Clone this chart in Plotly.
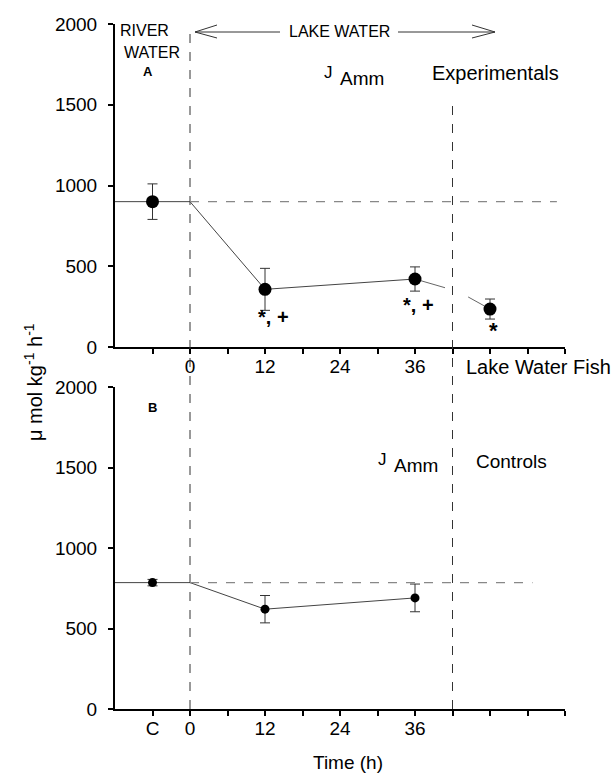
import plotly.graph_objects as go

# ---------------- data ----------------
hours = [12, 36]
# Panel A (experimentals)
exp_river_x = -6
exp_river = 900
exp_river_err = 110
exp_vals = [357, 421]
exp_errs = [130, 75]
lake_fish_x = 48
lake_fish = 235
lake_fish_err = 62
# broken connector between 36 h and lake water fish
conn_x = [36, 40.8, None, 44.5, 48]
conn_y = [421, 367, None, 310, 235]

# Panel B (controls)
ctrl_x = -6
ctrl_val = 785
ctrl_err = 20
ctrl_vals = [620, 690]
ctrl_errs = [85, 86]

tick_vals = [-6, 0, 6, 12, 18, 24, 30, 36, 42, 48, 54, 60]
top_tick_text = ["", "0", "", "12", "", "24", "", "36", "", "", "", ""]
bot_tick_text = ["C", "0", "", "12", "", "24", "", "36", "", "", "", ""]
y_ticks = [0, 500, 1000, 1500, 2000]

# ---------------- layout helpers ----------------
W, H = 615, 777
def px(x):
    return x / W
def py(y):
    return 1 - y / H

FONT = "Liberation Sans, Arial, sans-serif"
LINE_C = "#444444"
ERR_C = "#333333"

fig = go.Figure()

# Panel A traces
fig.add_trace(go.Scatter(
    x=[-12, 0] + hours, y=[exp_river, exp_river] + exp_vals,
    mode="lines", line=dict(color=LINE_C, width=1), xaxis="x", yaxis="y",
    showlegend=False, hoverinfo="skip"))
fig.add_trace(go.Scatter(
    x=conn_x, y=conn_y, mode="lines", line=dict(color="#666666", width=1),
    xaxis="x", yaxis="y", showlegend=False, hoverinfo="skip", connectgaps=False))
fig.add_trace(go.Scatter(
    x=[exp_river_x] + hours + [lake_fish_x],
    y=[exp_river] + exp_vals + [lake_fish],
    error_y=dict(type="data", array=[exp_river_err] + exp_errs + [lake_fish_err],
                 color=ERR_C, thickness=1, width=5),
    mode="markers", marker=dict(color="black", size=13),
    xaxis="x", yaxis="y", showlegend=False))

# Panel B traces
fig.add_trace(go.Scatter(
    x=[-12, 0] + hours, y=[ctrl_val, ctrl_val] + ctrl_vals,
    mode="lines", line=dict(color=LINE_C, width=1), xaxis="x2", yaxis="y2",
    showlegend=False, hoverinfo="skip"))
fig.add_trace(go.Scatter(
    x=[ctrl_x] + hours, y=[ctrl_val] + ctrl_vals,
    error_y=dict(type="data", array=[ctrl_err] + ctrl_errs,
                 color=ERR_C, thickness=1, width=5),
    mode="markers", marker=dict(color="black", size=9),
    xaxis="x2", yaxis="y2", showlegend=False))

axis_common = dict(
    showline=True, linecolor="black", linewidth=2, ticks="outside",
    ticklen=5, tickwidth=1.5, tickcolor="black", showgrid=False, zeroline=False,
    tickfont=dict(family=FONT, size=19, color="black"),
)

x_dom = [px(115), px(565)]
fig.update_layout(
    width=W, height=H, margin=dict(l=0, r=0, t=0, b=0, autoexpand=False),
    paper_bgcolor="white", plot_bgcolor="white",
    xaxis=dict(domain=x_dom, range=[-12, 60], anchor="y",
               tickmode="array", tickvals=tick_vals, ticktext=top_tick_text,
               ticklabelstandoff=-4, **axis_common),
    yaxis=dict(domain=[py(347), py(24)], range=[0, 2000], anchor="x",
               tickmode="array", tickvals=y_ticks, ticklabelstandoff=7, **axis_common),
    xaxis2=dict(domain=x_dom, range=[-12, 60], anchor="y2",
                tickmode="array", tickvals=tick_vals, ticktext=bot_tick_text,
                ticklabelstandoff=-4, **axis_common),
    yaxis2=dict(domain=[py(709), py(387)], range=[0, 2000], anchor="x2",
                tickmode="array", tickvals=y_ticks, ticklabelstandoff=7, **axis_common),
)

shapes = []
# vertical dashed lines
shapes.append(dict(type="line", xref="x", yref="paper", x0=0, x1=0,
                   y0=py(709), y1=py(27), line=dict(color="#333333", width=1, dash="dash")))
shapes.append(dict(type="line", xref="x", yref="paper", x0=42, x1=42,
                   y0=py(709), y1=py(97), line=dict(color="#333333", width=1, dash="dash")))
# horizontal dashed reference lines
shapes.append(dict(type="line", xref="x", yref="y", x0=0, x1=58.7,
                   y0=exp_river, y1=exp_river, line=dict(color="#888888", width=1.2, dash="dash")))
shapes.append(dict(type="line", xref="x2", yref="y2", x0=0, x1=54.8,
                   y0=ctrl_val, y1=ctrl_val, line=dict(color="#888888", width=1.2, dash="dash")))
# LAKE WATER arrows (open heads)
ac = dict(color="#333333", width=1)
def seg(x0, y0, x1, y1):
    shapes.append(dict(type="line", xref="paper", yref="paper",
                       x0=px(x0), y0=py(y0), x1=px(x1), y1=py(y1), line=ac))
seg(195, 32, 280, 32)
seg(195, 32, 217, 25)
seg(195, 32, 217, 38)
seg(398, 32, 495, 32)
seg(495, 32, 472, 25)
seg(495, 32, 472, 38)
fig.update_layout(shapes=shapes)

ann = []
def txt(x, y, t, size, xanchor="center", angle=0):
    ann.append(dict(xref="paper", yref="paper", x=px(x), y=py(y), text=t,
                    showarrow=False, xanchor=xanchor, yanchor="middle",
                    textangle=angle,
                    font=dict(family=FONT, size=size, color="black")))
txt(118, 30, "RIVER", 16, xanchor="left")
txt(152, 52, "WATER", 16)
txt(148, 71, "<b>A</b>", 13)
txt(152, 407, "<b>B</b>", 13)
txt(339, 32, "LAKE WATER", 16)
txt(328, 72, "J", 17)
txt(362, 79, "Amm", 19)
txt(382, 459, "J", 17)
txt(416, 466, "Amm", 19)
txt(495, 73, "Experimentals", 20)
txt(511, 461, "Controls", 19)
txt(538, 367, "Lake Water Fish", 20)
txt(273, 317, "<b>*, +</b>", 20)
txt(418, 305, "<b>*, +</b>", 20)
txt(493, 330, "<b>*</b>", 22)
txt(348, 762, "Time (h)", 19)
txt(33, 382, "μ mol kg<sup>-1</sup> h<sup>-1</sup>", 20, angle=-90)
fig.update_layout(annotations=ann)

fig.write_html("out.html")
